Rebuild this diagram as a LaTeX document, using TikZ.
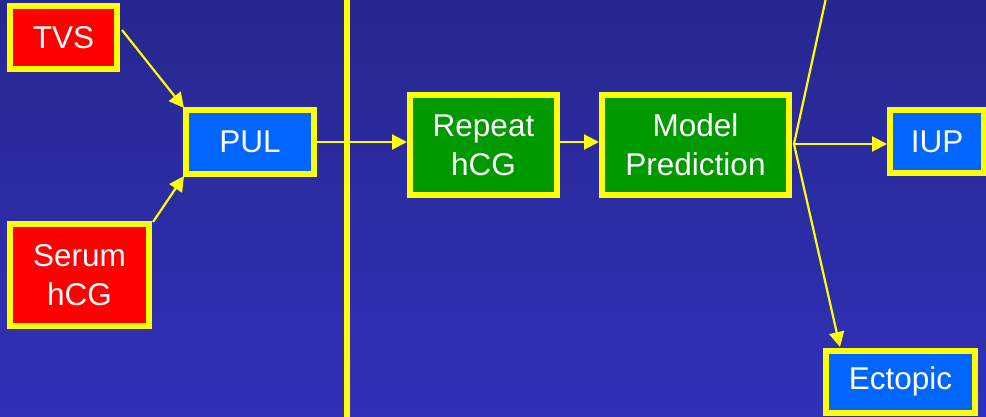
\documentclass[tikz,border=0pt]{standalone}
\usepackage{fontspec}
\setmainfont{Liberation Sans}
\usetikzlibrary{arrows.meta}
\definecolor{bgtop}{HTML}{272790}
\definecolor{bgbot}{HTML}{3131B9}
\definecolor{boxred}{HTML}{FF0000}
\definecolor{boxblue}{HTML}{0066FF}
\definecolor{boxgreen}{HTML}{009900}
\definecolor{hiyellow}{HTML}{FFFF00}
\begin{document}
\begin{tikzpicture}[x=1pt,y=-1pt,
  box/.style={draw=hiyellow,line width=6pt,inner sep=0pt,text=white,
    font=\fontsize{31.5}{39}\selectfont,align=center},
  redbox/.style={box,fill=boxred},
  bluebox/.style={box,fill=boxblue},
  greenbox/.style={box,fill=boxgreen},
  conn/.style={draw=hiyellow,line width=2.2pt,-{Triangle[length=15pt,width=15pt]}},
  plainline/.style={draw=hiyellow,line width=2.2pt},
  divider/.style={draw=hiyellow,line width=6.5pt}
]
\path[use as bounding box,top color=bgtop,bottom color=bgbot] (0,0) rectangle (986,417);
\clip (0,0) rectangle (986,417);

% divider
\coordinate (divtop) at (347,0);
\coordinate (divbot) at (347,417);
\draw[divider] (divtop) -- (divbot);

% nodes
\node[redbox,minimum width=107pt,minimum height=63pt] (tvs) at (63.5,37.5) {TVS};
\node[redbox,minimum width=139pt,minimum height=102pt] (serum) at (79.5,275) {Serum\\hCG};
\node[bluebox,minimum width=128pt,minimum height=64pt] (pul) at (250,142) {PUL};
\node[greenbox,minimum width=147pt,minimum height=100pt] (repeat) at (483.5,145) {Repeat\\hCG};
\node[greenbox,minimum width=187pt,minimum height=100pt] (model) at (695.5,145) {Model\\Prediction};
\node[bluebox,minimum width=94pt,minimum height=63pt] (iup) at (937,141.5) {IUP};
\node[bluebox,minimum width=149pt,minimum height=62pt] (ectopic) at (900.5,381.5) {Ectopic};

% connectors
\coordinate (tvsout) at (122,30);
\coordinate (pulin1) at (184,108);
\coordinate (serumout) at (153,222);
\coordinate (pulin2) at (184,176);
\draw[conn] (tvsout) -- (pulin1);
\draw[conn] (serumout) -- (pulin2);

\coordinate (pulout) at (pul.east |- 0,142);
\coordinate (repin) at (repeat.west |- 0,142);
\coordinate (repout) at (repeat.east |- 0,142);
\coordinate (modin) at (model.west |- 0,142);
\draw[conn] (pulout) -- (repin);
\draw[conn] (repout) -- (modin);

\coordinate (fan) at (794,144);
\coordinate (fanup) at (826,-2);
\coordinate (ectin) at (840,347);
\draw[plainline] (fan) -- (fanup);
\draw[conn] (fan) -- (fan -| iup.west);
\draw[conn] (fan) -- (ectin);
\end{tikzpicture}
\end{document}
